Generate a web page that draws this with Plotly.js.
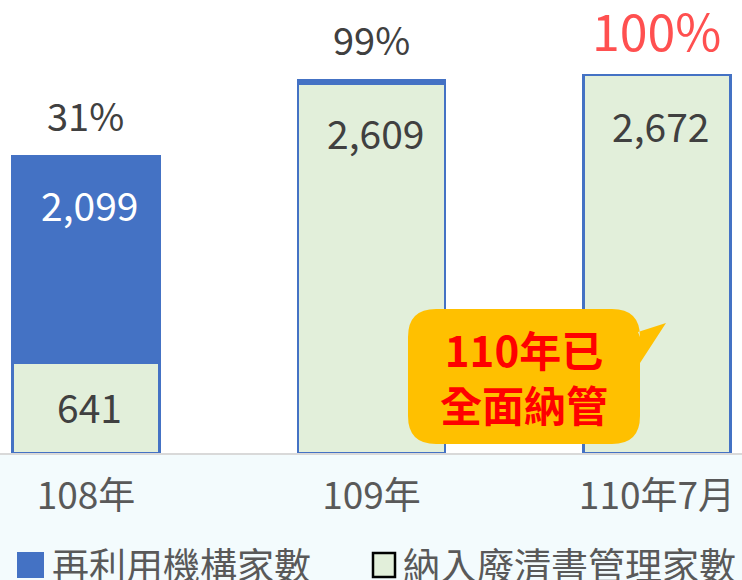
<!DOCTYPE html>
<html>
<head>
<meta charset="utf-8">
<script src="https://cdn.plot.ly/plotly-3.0.1.min.js"></script>
<style>
  html, body { margin: 0; padding: 0; background: #fff; }
  #chart { width: 742px; height: 580px; }
</style>
</head>
<body>
<div id="chart"></div>
<script>
// values
const categories = ['108年', '109年', '110年7月'];
const managedCounts = [641, 2609, 2672];   // 納入廢清書管理家數
const reuseCounts = [1458, 26, 0];          // 再利用機構家數 (remaining part of the total)
const totalLabels = ['2,099', '2,609', '2,672'];
const pctLabels = ['31%', '99%', '100%'];
const legendNames = ['再利用機構家數', '納入廢清書管理家數'];

const BLUE = '#4472C4';
const GREEN = '#E2EFDA';
const FONT = '"Noto Sans CJK TC", "Noto Sans", sans-serif';

// plot area in pixels (used for decorations only)
const W = 742, PH = 453;
const fx = px => px / W;
const fy = py => (PH - py) / PH;

const totals = managedCounts.map((v, i) => v + reuseCounts[i]);

const traces = [
  {
    type: 'bar', x: categories, y: managedCounts, name: legendNames[1],
    marker: { color: GREEN, line: { color: BLUE, width: 2.5 } },
    hoverinfo: 'skip', showlegend: false
  },
  {
    type: 'bar', x: categories, y: reuseCounts, name: legendNames[0],
    marker: { color: BLUE, line: { color: BLUE, width: 2.5 } },
    hoverinfo: 'skip', showlegend: false
  }
];

const annotations = [];
const inShift = [-18, -22, -20];

// numbers inside the bars
categories.forEach((c, i) => {
  annotations.push({
    x: c, y: totals[i], xref: 'x', yref: 'y',
    text: totalLabels[i], showarrow: false,
    yanchor: 'top', yshift: inShift[i], xshift: 4,
    font: { family: FONT, size: 39, color: i === 0 ? '#ffffff' : '#404040' }
  });
  // percentage above each bar
  annotations.push({
    x: c, y: totals[i], xref: 'x', yref: 'y',
    text: pctLabels[i], showarrow: false,
    yanchor: 'bottom', yshift: i === 2 ? 8 : 12,
    font: { family: FONT, size: i === 2 ? 50 : 38, color: i === 2 ? '#FF5050' : '#404040' }
  });
});
// lower segment of the first bar
annotations.push({
  x: categories[0], y: managedCounts[0] / 2, xref: 'x', yref: 'y',
  text: String(managedCounts[0]), showarrow: false, xshift: 4, yshift: 2,
  font: { family: FONT, size: 39, color: '#404040' }
});

// callout text
annotations.push({
  x: fx(524), y: fy(376), xref: 'paper', yref: 'paper',
  xanchor: 'center', yanchor: 'middle',
  text: '<b>110年已<br>全面納管</b>', showarrow: false,
  font: { family: FONT, size: 42, color: '#FF0000' }
});

// legend drawn by hand (large squares)
annotations.push({
  x: fx(50), y: fy(564), xref: 'paper', yref: 'paper',
  xanchor: 'left', yanchor: 'middle',
  text: legendNames[0], showarrow: false,
  font: { family: FONT, size: 37, color: '#595959' }
});
annotations.push({
  x: fx(401), y: fy(564), xref: 'paper', yref: 'paper',
  xanchor: 'left', yanchor: 'middle',
  text: legendNames[1], showarrow: false,
  font: { family: FONT, size: 37, color: '#595959' }
});

// rounded speech bubble
const L = 408, T = 309, R = 640, B = 444, r = 28;
const bubble = [
  `M${fx(L + r)},${fy(T)}`,
  `L${fx(R - r)},${fy(T)}`,
  `Q${fx(R)},${fy(T)} ${fx(R)},${fy(T + r)}`,
  `L${fx(638)},${fy(332)}`,
  `L${fx(666)},${fy(323)}`,
  `L${fx(R)},${fy(363)}`,
  `L${fx(R)},${fy(B - r)}`,
  `Q${fx(R)},${fy(B)} ${fx(R - r)},${fy(B)}`,
  `L${fx(L + r)},${fy(B)}`,
  `Q${fx(L)},${fy(B)} ${fx(L)},${fy(B - r)}`,
  `L${fx(L)},${fy(T + r)}`,
  `Q${fx(L)},${fy(T)} ${fx(L + r)},${fy(T)}`,
  'Z'
].join(' ');

const shapes = [
  // pale band under the axis
  { type: 'rect', xref: 'paper', yref: 'paper', x0: 0, x1: 1, y0: fy(580), y1: 0,
    fillcolor: '#F3FBFD', line: { width: 0 }, layer: 'below' },
  { type: 'path', xref: 'paper', yref: 'paper', path: bubble,
    fillcolor: '#FFC000', line: { width: 0 }, layer: 'above' },
  // legend squares
  { type: 'rect', xref: 'paper', yref: 'paper', x0: fx(17), x1: fx(44), y0: fy(578), y1: fy(552),
    fillcolor: BLUE, line: { width: 0 } },
  { type: 'rect', xref: 'paper', yref: 'paper', x0: fx(373), x1: fx(395), y0: fy(577), y1: fy(553),
    fillcolor: GREEN, line: { color: '#000000', width: 2.5 } }
];

const layout = {
  width: 742, height: 580,
  margin: { l: 0, r: 0, t: 0, b: 127 },
  paper_bgcolor: '#ffffff', plot_bgcolor: '#ffffff',
  font: { family: FONT },
  barmode: 'stack',
  bargap: 0.485,
  showlegend: false,
  xaxis: {
    range: [-0.301, 2.298],
    showgrid: false, zeroline: false,
    showline: true, linecolor: '#D9D9D9', linewidth: 2,
    ticks: '', ticklabelstandoff: 10,
    tickfont: { family: FONT, size: 37, color: '#595959' },
    fixedrange: true
  },
  yaxis: {
    range: [0, 3201],
    visible: false, showgrid: false, zeroline: false,
    fixedrange: true
  },
  annotations: annotations,
  shapes: shapes
};

Plotly.newPlot('chart', traces, layout, { displayModeBar: false, staticPlot: true });
</script>
</body>
</html>
